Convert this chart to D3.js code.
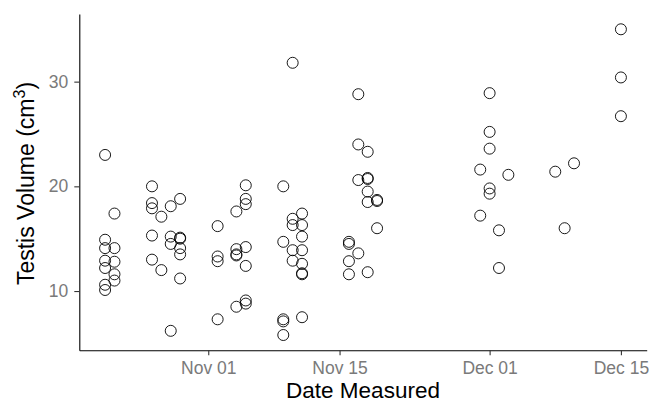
<!DOCTYPE html>
<html>
<head>
<meta charset="utf-8">
<script src="https://cdn.jsdelivr.net/npm/d3@7"></script>
<style>
    body { margin: 0; background: #fff; }
    svg { display: block; font-family: "Liberation Sans", Arial, sans-serif; }
</style>
</head>
<body>
<svg id="chart"></svg>
<script>
// measurement days and the testis volumes taken on each day
const sampleDates = ['2021-10-21', '2021-10-22', '2021-10-26', '2021-10-27', '2021-10-28',
    '2021-10-29', '2021-11-02', '2021-11-04', '2021-11-05', '2021-11-09', '2021-11-10',
    '2021-11-11', '2021-11-16', '2021-11-17', '2021-11-18', '2021-11-19', '2021-11-30',
    '2021-12-01', '2021-12-02', '2021-12-03', '2021-12-08', '2021-12-09', '2021-12-10',
    '2021-12-15'];
const volumesByDate = [
    [23.0, 14.9, 14.1, 12.9, 12.2, 10.6, 10.1],
    [17.4, 14.1, 12.8, 11.6, 11.0],
    [20.0, 18.4, 17.9, 15.3, 13.0],
    [17.1, 12.0],
    [18.1, 15.2, 14.5, 6.2],
    [18.8, 15.1, 15.0, 14.1, 13.5, 11.2],
    [16.2, 13.3, 12.85, 7.3],
    [17.6, 14.0, 13.5, 13.4, 8.5],
    [20.1, 18.8, 18.3, 14.2, 12.4, 9.1, 8.8],
    [20.0, 14.7, 7.3, 7.1, 5.8],
    [31.8, 16.9, 16.3, 13.9, 12.9],
    [17.4, 16.3, 15.2, 13.9, 12.6, 11.7, 11.6, 7.5],
    [14.7, 14.5, 12.85, 11.6],
    [28.8, 24.0, 20.6, 13.6],
    [23.3, 20.8, 20.7, 19.5, 18.5, 11.8],
    [18.7, 18.6, 16.0],
    [21.6, 17.2],
    [28.9, 25.2, 23.6, 19.8, 19.3],
    [15.8, 12.2],
    [21.1],
    [21.4],
    [16.0],
    [22.2],
    [35.0, 30.4, 26.7]
];
const xTickDates = ['2021-11-01', '2021-11-15', '2021-12-01', '2021-12-15'];
const yTicks = [10, 20, 30];

const width = 652, height = 403;
const margin = { top: 14, right: 5.3, bottom: 52.7, left: 79.3 };
const parse = d3.utcParse('%Y-%m-%d');

const points = [];
sampleDates.forEach((d, i) => {
    volumesByDate[i].forEach((v) => points.push({ date: parse(d), volume: v }));
});

// ggplot style 5% padding around the data range
const expand = (ext) => {
    const pad = (ext[1] - ext[0]) * 0.05;
    return [ext[0] - pad, ext[1] + pad];
};
const xExt = d3.extent(points, (p) => +p.date);
const yExt = d3.extent(points, (p) => p.volume);

const x = d3.scaleUtc()
    .domain(expand(xExt).map((t) => new Date(t)))
    .range([margin.left, width - margin.right]);
const y = d3.scaleLinear()
    .domain(expand(yExt))
    .range([height - margin.bottom, margin.top]);

const svg = d3.select('#chart')
    .attr('width', width)
    .attr('height', height);

const xAxis = svg.append('g')
    .attr('transform', 'translate(0,' + (height - margin.bottom) + ')')
    .call(d3.axisBottom(x)
        .tickValues(xTickDates.map(parse))
        .tickFormat(d3.utcFormat('%b %d'))
        .tickSize(5)
        .tickSizeOuter(0)
        .tickPadding(6.5));
const yAxis = svg.append('g')
    .attr('transform', 'translate(' + margin.left + ',0)')
    .call(d3.axisLeft(y)
        .tickValues(yTicks)
        .tickSize(5)
        .tickSizeOuter(0)
        .tickPadding(6));

[xAxis, yAxis].forEach((g) => {
    g.select('.domain').attr('stroke', '#000').attr('stroke-width', 1.1);
    g.selectAll('.tick line').attr('stroke', '#333').attr('stroke-width', 1.1);
    g.selectAll('.tick text').attr('font-size', 17.5).attr('fill', '#7a7a7a');
});

svg.append('g')
    .selectAll('circle')
    .data(points)
    .join('circle')
    .attr('cx', (p) => x(p.date))
    .attr('cy', (p) => y(p.volume))
    .attr('r', 5.5)
    .attr('fill', 'none')
    .attr('stroke', '#000')
    .attr('stroke-width', 0.9);

svg.append('text')
    .attr('x', (margin.left + width - margin.right) / 2)
    .attr('y', 398)
    .attr('text-anchor', 'middle')
    .attr('font-size', 22.5)
    .attr('fill', '#000')
    .text('Date Measured');

const yTitle = svg.append('text')
    .attr('transform', 'translate(33.5,183.5) rotate(-90)')
    .attr('text-anchor', 'middle')
    .attr('font-size', 23)
    .attr('fill', '#000');
yTitle.append('tspan').text('Testis Volume (cm');
yTitle.append('tspan').attr('dy', -9).attr('font-size', 16).text('3');
yTitle.append('tspan').attr('dy', 9).text(')');
</script>
</body>
</html>
